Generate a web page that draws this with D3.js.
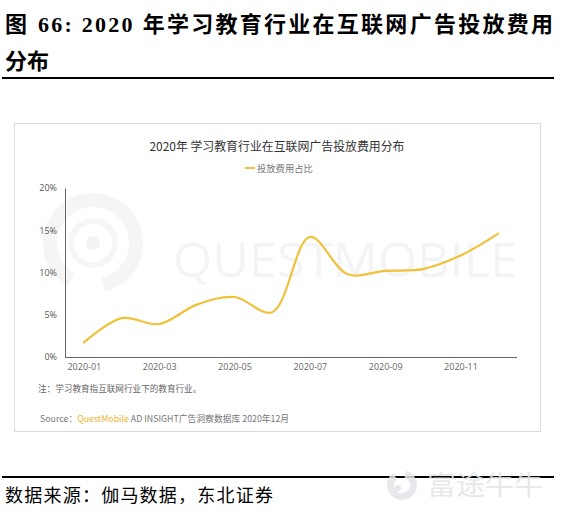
<!DOCTYPE html>
<html><head><meta charset="utf-8">
<script src="https://cdn.jsdelivr.net/npm/d3@7"></script>
<style>
html,body{margin:0;padding:0;background:#fff;}
svg{display:block;}
</style></head>
<body>
<script>
const months = ["2020-01","2020-02","2020-03","2020-04","2020-05","2020-06","2020-07","2020-08","2020-09","2020-10","2020-11","2020-12"];
const shareValues = [1.7, 4.6, 3.9, 6.2, 7.1, 5.3, 14.2, 9.8, 10.2, 10.4, 12.0, 14.6];
const yTicks = [0, 5, 10, 15, 20];
const xTickLabels = ["2020-01","2020-03","2020-05","2020-07","2020-09","2020-11"];
const seriesName = "投放费用占比";

const W = 564, H = 520;
const svg = d3.select("body").append("svg").attr("width", W).attr("height", H);
const cjkSerif = "'Liberation Serif','Noto Sans CJK SC',serif";
const cjkSans = "'Noto Sans CJK SC','Microsoft YaHei',sans-serif";

// Report title
const t1 = svg.append("text").attr("y", 32)
  .attr("font-family", cjkSerif).attr("font-weight", "bold").attr("font-size", 22).attr("fill", "#000");
t1.append("tspan").attr("x", 5).text("图");
t1.append("tspan").attr("x", 38).attr("textLength", 515).attr("lengthAdjust", "spacing")
  .text("66: 2020 年学习教育行业在互联网广告投放费用");
svg.append("text").attr("x", 5).attr("y", 69)
  .attr("font-family", cjkSerif).attr("font-weight", "bold").attr("font-size", 22)
  .attr("fill", "#000").text("分布");
svg.append("rect").attr("x", 2).attr("y", 77).attr("width", 552).attr("height", 2).attr("fill", "#000");

// Panel
svg.append("rect").attr("x", 14.5).attr("y", 123.5).attr("width", 526).attr("height", 308)
  .attr("fill", "#fff").attr("stroke", "#dcdcdc").attr("stroke-width", 1);

// Watermark (QuestMobile)
const wm = svg.append("g").attr("fill", "none");
wm.append("path").attr("d", d3.arc()({innerRadius: 36, outerRadius: 50, startAngle: -2.6, endAngle: 2.9}))
  .attr("transform", "translate(93,243)").attr("fill", "#f5f5f5");
wm.append("circle").attr("cx", 93).attr("cy", 243).attr("r", 22).attr("stroke", "#f6f6f6").attr("stroke-width", 6);
wm.append("circle").attr("cx", 93).attr("cy", 243).attr("r", 7).attr("fill", "#f3f3f3");
svg.append("text").attr("x", 173).attr("y", 277)
  .attr("font-family", "'Open Sans',sans-serif").attr("font-size", 48)
  .attr("textLength", 345).attr("lengthAdjust", "spacingAndGlyphs")
  .attr("fill", "#f4f4f4").text("QUESTMOBILE");

// Chart title
svg.append("text").attr("x", 277).attr("y", 151).attr("text-anchor", "middle")
  .attr("font-family", cjkSans).attr("font-size", 12).attr("fill", "#333")
  .attr("textLength", 255).attr("lengthAdjust", "spacingAndGlyphs")
  .text("2020年 学习教育行业在互联网广告投放费用分布");

// Legend
const lineColor = "#f0c13a";
svg.append("line").attr("x1", 245).attr("x2", 255).attr("y1", 168).attr("y2", 168)
  .attr("stroke", lineColor).attr("stroke-width", 2);
svg.append("text").attr("x", 257).attr("y", 171.5)
  .attr("font-family", cjkSans).attr("font-size", 9.3).attr("fill", "#777")
  .text(seriesName);

// Scales
const x = d3.scalePoint().domain(months).range([65, 517]).padding(0.5);
const y = d3.scaleLinear().domain([0, 20]).range([357, 188]);

// Axes
const gx = svg.append("g").attr("transform", "translate(0,357)")
  .call(d3.axisBottom(x).tickValues(xTickLabels).tickSize(0).tickPadding(7));
gx.select(".domain").attr("stroke", "#666").attr("d", "M65,0.5H517");
gx.selectAll("text").attr("font-family", "'Open Sans',sans-serif").attr("font-size", 9).attr("fill", "#666");

const gy = svg.append("g").attr("transform", "translate(65,0)")
  .call(d3.axisLeft(y).tickValues(yTicks).tickFormat(d => d + "%").tickSize(0).tickPadding(8));
gy.select(".domain").attr("stroke", "#666");
gy.selectAll("text").attr("font-family", "'Open Sans',sans-serif").attr("font-size", 9).attr("fill", "#555");

// Line
const line = d3.line().x((d, i) => x(months[i])).y(d => y(d)).curve(d3.curveCatmullRom.alpha(0.5));
svg.append("path").datum(shareValues).attr("d", line)
  .attr("fill", "none").attr("stroke", lineColor).attr("stroke-width", 2.2).attr("stroke-linecap", "round");

// Notes
svg.append("text").attr("x", 38).attr("y", 392)
  .attr("font-family", cjkSans).attr("font-size", 8.6).attr("fill", "#666")
  .text("注：学习教育指互联网行业下的教育行业。");
const src = svg.append("text").attr("x", 40).attr("y", 422)
  .attr("font-family", cjkSans).attr("font-size", 8.8).attr("fill", "#777");
src.append("tspan").text("Source：");
src.append("tspan").attr("fill", "#f2b233").text("QuestMobile");
src.append("tspan").text(" AD INSIGHT广告洞察数据库 2020年12月");

// Bottom
svg.append("rect").attr("x", 2).attr("y", 476).attr("width", 552).attr("height", 2).attr("fill", "#000");
svg.append("text").attr("x", 5).attr("y", 502)
  .attr("font-family", cjkSerif).attr("font-size", 18).attr("fill", "#000")
  .attr("textLength", 268).attr("lengthAdjust", "spacing")
  .text("数据来源：伽马数据，东北证券");
const fw = svg.append("g").attr("opacity", 0.85);
fw.append("path").attr("d", d3.arc()({innerRadius: 8, outerRadius: 15, startAngle: 0.3, endAngle: 5.6}))
  .attr("transform", "translate(402,485)").attr("fill", "#e3e5e8");
fw.append("circle").attr("cx", 398).attr("cy", 488).attr("r", 3).attr("fill", "#e3e5e8");
fw.append("text").attr("x", 427).attr("y", 495)
  .attr("font-family", cjkSans).attr("font-size", 27).attr("fill", "#e3e5e8")
  .attr("textLength", 116).attr("lengthAdjust", "spacingAndGlyphs")
  .text("富途牛牛");
</script>
</body></html>
